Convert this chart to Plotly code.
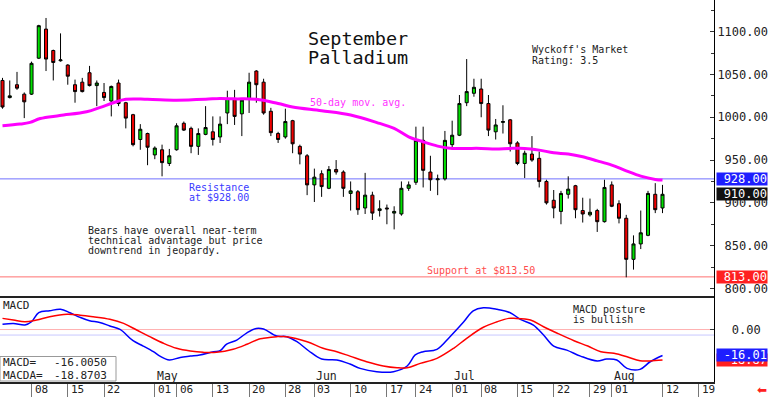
from decimal import Decimal, ROUND_HALF_UP
import pandas as pd
import plotly.graph_objects as go

# ---------------- data ----------------
holidays = ["2024-05-27", "2024-06-19", "2024-07-04"]
first_day, last_day, axis_end_day = "2024-04-02", "2024-08-12", "2024-08-23"

opens = [1043, 1023, 1038, 1027, 1027, 1069, 1103, 1078, 1066, 1061,
         1038, 1041, 1052, 1037, 1029, 1019, 1040, 1017, 1003, 974,
         981, 956, 962, 946, 962, 993, 987, 966, 980, 983,
         977, 1005, 1021, 1004, 1021, 1054, 1041, 1007, 981, 977,
         996, 966, 955, 921, 934, 917, 939, 936, 911, 913,
         894, 909, 891, 894, 888, 887, 917, 924, 973, 936,
         927, 928, 968, 979, 1017, 1028, 1033, 1016, 983, 994,
         997, 970, 946, 957, 952, 925, 903, 890, 910, 920,
         891, 886, 891, 878, 921, 899, 882, 834, 852, 862,
         910, 894]
highs = [1046, 1043, 1053, 1029, 1065, 1108, 1116, 1079, 1098, 1062,
         1044, 1046, 1060, 1043, 1040, 1037, 1044, 1018, 1004, 992,
         982, 966, 968, 963, 993, 995, 989, 987, 1013, 1001,
         1001, 1031, 1032, 1022, 1052, 1055, 1045, 1011, 983, 1010,
         997, 968, 957, 940, 938, 943, 950, 938, 925, 915,
         935, 913, 903, 898, 896, 925, 925, 989, 989, 955,
         933, 984, 996, 1026, 1068, 1045, 1045, 1026, 998, 1014,
         998, 972, 961, 978, 960, 927, 915, 914, 931, 921,
         906, 905, 893, 927, 925, 903, 886, 862, 891, 914,
         923, 921]
lows = [1010, 1022, 1032, 999, 1026, 1068, 1054, 1043, 1065, 1038,
        1017, 1029, 1036, 1013, 1019, 1001, 1013, 987, 966, 962,
        944, 951, 931, 943, 961, 984, 958, 956, 979, 967,
        970, 992, 991, 978, 1005, 1017, 1003, 978, 970, 975,
        958, 945, 909, 901, 907, 916, 933, 907, 891, 886,
        887, 880, 884, 875, 869, 885, 914, 921, 918, 914,
        909, 926, 965, 978, 1013, 1024, 1000, 978, 974, 981,
        960, 944, 929, 948, 918, 898, 882, 875, 905, 882,
        877, 884, 866, 877, 895, 876, 813, 822, 846, 861,
        888, 888]
closes = [1012, 1025, 1034, 1018, 1063, 1107, 1068, 1064, 1067, 1048,
          1030, 1030, 1037, 1040, 1023, 1036, 1016, 999, 968, 986,
          965, 964, 947, 955, 990, 985, 966, 981, 988, 974,
          992, 1022, 1001, 1020, 1041, 1038, 1005, 982, 974, 995,
          969, 957, 921, 930, 919, 939, 936, 917, 914, 892,
          909, 888, 893, 893, 890, 917, 921, 973, 938, 927,
          928, 973, 979, 1016, 1030, 1035, 1016, 985, 991, 995,
          969, 946, 958, 950, 925, 900, 894, 911, 916, 892,
          887, 889, 878, 918, 896, 882, 834, 852, 865, 911,
          892, 910]

# 50-day moving average (position in trading days, value)
ma_pos = [0, 2.4, 3.8, 5.2, 7.9, 11.6, 13.5, 15.3, 17, 20, 24, 28, 30, 32, 35,
          38, 40, 44, 48, 52, 54, 56, 58, 60, 62, 64, 66, 68, 70, 72, 74, 76,
          78, 80, 82, 84, 86, 88, 90, 91]
ma_val = [990, 992, 994, 998.5, 1002, 1006.4, 1011.6, 1017, 1021, 1021, 1020,
          1021, 1022, 1021.5, 1021, 1016, 1012, 1007.6, 1002.6, 992.8, 987,
          977.2, 971.3, 966.3, 963.6, 963.6, 963.6, 962.8, 963.6, 963.6, 961.6,
          958.5, 957, 953.8, 949.1, 944.1, 937.4, 931.2, 927.4, 926.6]

macd_pos = [0, 1.5, 3.1, 4, 5, 6.5, 8, 9.3, 10.7, 12, 13.4, 14.8, 16.2, 18, 19.4,
            20.8, 21.7, 23, 24.5, 25.9, 27.2, 29.1, 30, 30.9, 32.3, 33.7, 35, 36,
            37.8, 39.2, 40.6, 42.2, 44, 46.1, 47.9, 49.3, 51.6, 53.9, 55.8, 56.9,
            58, 59.9, 61.7, 63.6, 64.9, 66.3, 68.2, 70, 71.4, 73.2, 74.6, 76,
            77.8, 79.7, 82, 83.3, 84.7, 86.1, 87.9, 89.3, 91]
macd_val = [3.2, 3.8, 2.8, 4.8, 10.4, 11.6, 12.5, 10.4, 7.5, 5.4, 4.4, 2.2, 0.1,
            -6.9, -10.2, -13.7, -16.4, -18.8, -17.2, -16.4, -15.7, -13.7, -13.1,
            -9, -6.5, -2, 0.7, 0.3, -4, -4.4, -7.5, -13.1, -18.2, -18.8, -21.3,
            -24, -26, -26, -22.5, -15.7, -13.7, -12.2, -4.4, 4.8, 11.6, 13.5,
            12.5, 10.4, 6.3, 2.8, -3.4, -10.2, -12.7, -16.4, -19.4, -18.2, -18.8,
            -24, -24.6, -19.9, -16.005]
macda_pos = [0, 1.5, 3.1, 4.7, 6.5, 8.9, 10.7, 12.5, 14.8, 16.7, 18.5, 20.3, 22.2,
             24, 25.9, 27.7, 29.5, 31.8, 33.7, 35.3, 36, 37.8, 39.2, 42, 44.2,
             46.1, 47.9, 50.2, 52.5, 54.4, 55.8, 57.6, 59.9, 62.2, 64, 66.3, 68.2,
             69.8, 70.5, 72.8, 74.6, 76.5, 78.8, 80.7, 82.5, 84.3, 86.1, 87.9,
             89.3, 91]
macda_val = [6.9, 5.9, 4.8, 5.9, 7.9, 9.4, 8.9, 7.9, 6.3, 3.8, -0.3, -4.4, -8.5,
             -11.6, -13.3, -14.1, -14.1, -12.2, -9.1, -6, -5.4, -4.4, -4.4, -7.5,
             -11.6, -13.7, -16.4, -19.9, -22.5, -23.6, -23.6, -20.9, -17.8, -11.6,
             -5.4, 1.4, 4.8, 6.9, 6.9, 5.9, 1.7, -2.3, -6.9, -10.2, -13.7, -14.7,
             -16.8, -19.3, -19.4, -18.87]

resistance = 928.0
support = 813.5
support_tag = 813.0
last_price = 910.0
macd_last = "-16.0050"
macda_last = "-18.8703"
macd_ref_lines = [0.0, -3.4]

price_ticks = [800, 850, 900, 950, 1000, 1050, 1100]
day_tick_dates = ["2024-04-08", "2024-04-15", "2024-04-22", "2024-05-01", "2024-05-06",
                  "2024-05-13", "2024-05-20", "2024-05-28", "2024-06-03", "2024-06-10",
                  "2024-06-17", "2024-06-24", "2024-07-01", "2024-07-08", "2024-07-15",
                  "2024-07-22", "2024-07-29", "2024-08-01", "2024-08-12", "2024-08-19"]
day_tick_labels = ["08", "15", "22", "01", "06", "13", "20", "28", "03", "10", "17",
                   "24", "01", "08", "15", "22", "29", "01", "12", "19"]
month_dates = ["2024-05-01", "2024-06-03", "2024-07-01", "2024-08-01"]
month_labels = ["May", "Jun", "Jul", "Aug"]

# ---------------- trading-day index ----------------
all_days = [d.strftime("%Y-%m-%d") for d in pd.bdate_range(first_day, axis_end_day)]
trade_days = [d for d in all_days if d not in holidays]
day_idx = {d: i for i, d in enumerate(trade_days)}
n = day_idx[last_day] + 1
xi = list(range(n))

# ---------------- geometry ----------------
W, H = 768, 397
ML, MR, MT, MB = 0, 54, 0, 15
PW, PH = W - ML - MR, H - MT - MB
SPLIT = 297  # px from top where MACD panel starts
split_paper = (PH - SPLIT) / PH
FONT = "DejaVu Sans Mono"


def px(x):
    return x / PW


def py(y):
    return (PH - y) / PH


def r2(s):
    return str(Decimal(s).quantize(Decimal("0.01"), rounding=ROUND_HALF_UP))


fig = go.Figure()

fig.add_trace(go.Candlestick(
    x=xi, open=opens, high=highs, low=lows, close=closes,
    increasing=dict(line=dict(color="black", width=1), fillcolor="#00e000"),
    decreasing=dict(line=dict(color="black", width=1), fillcolor="#f00000"),
    whiskerwidth=0, showlegend=False, hoverinfo="skip", xaxis="x", yaxis="y"))

fig.add_trace(go.Scatter(x=ma_pos, y=ma_val, mode="lines", showlegend=False,
                         line=dict(color="#ff00ff", width=3, shape="spline"),
                         hoverinfo="skip", xaxis="x", yaxis="y"))

fig.add_trace(go.Scatter(x=macd_pos, y=macd_val, mode="lines", showlegend=False,
                         line=dict(color="#0000ff", width=1.5, shape="spline"),
                         hoverinfo="skip", xaxis="x2", yaxis="y2"))
fig.add_trace(go.Scatter(x=macda_pos, y=macda_val, mode="lines", showlegend=False,
                         line=dict(color="#ff0000", width=1.5, shape="spline"),
                         hoverinfo="skip", xaxis="x2", yaxis="y2"))

xr = [-0.345, 98.1]
shapes = [
    dict(type="line", xref="paper", yref="y", x0=0, x1=1, y0=resistance, y1=resistance,
         line=dict(color="#7070ff", width=1), layer="below"),
    dict(type="line", xref="paper", yref="y", x0=0, x1=1, y0=support, y1=support,
         line=dict(color="#ff7070", width=1), layer="below"),
    dict(type="line", xref="paper", yref="y2", x0=0, x1=1, y0=macd_ref_lines[0],
         y1=macd_ref_lines[0], line=dict(color="#ffb0b0", width=1), layer="below"),
    dict(type="line", xref="paper", yref="y2", x0=0, x1=1, y0=macd_ref_lines[1],
         y1=macd_ref_lines[1], line=dict(color="#c8c8ff", width=1), layer="below"),
    dict(type="line", xref="paper", yref="paper", x0=0, x1=1, y0=split_paper,
         y1=split_paper, line=dict(color="#222", width=2)),
    dict(type="rect", xref="paper", yref="paper", x0=px(0), x1=px(116),
         y0=py(381), y1=py(356.5), line=dict(color="#999", width=1),
         fillcolor="white"),
]

ann = []


def text(t, x, y, size=10, color="#222", **kw):
    d = dict(text=t, x=px(x), y=py(y), xref="paper", yref="paper", xanchor="left",
             yanchor="middle", showarrow=False,
             font=dict(family=FONT, size=size, color=color))
    d.update(kw)
    ann.append(d)


text("September", 306, 38.7, size=18.5, color="#111")
text("Palladium", 306, 57, size=18.5, color="#111")
text("50-day mov. avg.", 308, 102.5, color="#ff33ff")
text("Wyckoff's Market", 530, 49)
text("Rating: 3.5", 530, 60)
text("Resistance", 187, 187.5, color="#3a3aff")
text(f"at ${resistance:.2f}", 187, 198, color="#3a3aff")
text("Bears have overall near-term", 86, 230)
text("technical advantage but price", 86, 240.7)
text("downtrend in jeopardy.", 86, 250.7)
text(f"Support at ${support:.2f}", 425, 270, color="#ff4d4d")
text("MACD posture", 571, 309)
text("is bullish", 571, 319)
text("MACD", 1, 305, size=11)
text("MACD=", 1, 362.7, size=11)
text(macd_last, 52, 362.7, size=11)
text("MACDA=", 1, 375, size=11)
text(macda_last, 52, 375, size=11)

# date tick labels and month labels
for d, lab in zip(day_tick_dates, day_tick_labels):
    ann.append(dict(text=lab, x=day_idx[d], y=py(389), xref="x2", yref="paper",
                    xanchor="left", yanchor="middle", xshift=1, showarrow=False,
                    font=dict(family=FONT, size=11, color="#222")))
for d, lab in zip(month_dates, month_labels):
    ann.append(dict(text=lab, x=day_idx[d], y=py(376), xref="x2", yref="paper",
                    xanchor="left", yanchor="middle", showarrow=False,
                    font=dict(family=FONT, size=11.5, color="#222")))


def tag(t, yval, yref, bg):
    ann.append(dict(text=t, x=px(716), y=yval, xref="paper", yref=yref,
                    xanchor="left", yanchor="middle", showarrow=False, width=50,
                    height=12, align="right", bgcolor=bg, borderpad=0,
                    font=dict(family=FONT, size=12, color="white")))


tag(f"{resistance:.2f}", resistance, "y", "#1e1eff")
tag(f"{last_price:.2f}", last_price, "y", "#111111")
tag(f"{support_tag:.2f}", support, "y", "#ff2020")
tag(r2(macda_last), float(macda_last), "y2", "#ff2020")
tag(r2(macd_last), float(macd_last), "y2", "#1e1eff")
ann.append(dict(text="⬅", x=px(762), y=py(390), xref="paper", yref="paper",
                xanchor="center", yanchor="middle", showarrow=False,
                font=dict(family="DejaVu Sans", size=12, color="#ff2020")))

price_text = [f"{v:.2f}".rjust(7, "\u00a0") for v in price_ticks]

fig.update_layout(
    width=W, height=H, margin=dict(l=ML, r=MR, t=MT, b=MB, pad=0),
    paper_bgcolor="white", plot_bgcolor="white", showlegend=False,
    boxgap=0.4,
    font=dict(family=FONT, color="#222"),
    xaxis=dict(domain=[0, 1], range=xr, anchor="y", showticklabels=False,
               showgrid=False, zeroline=False, rangeslider=dict(visible=False),
               showline=False, ticks=""),
    yaxis=dict(domain=[split_paper, 1], range=[790, 1137], side="right",
               anchor="x", tickvals=price_ticks, ticktext=price_text,
               ticks="inside", ticklen=4, tickcolor="#333", showline=True,
               linecolor="black", linewidth=1, showgrid=False, zeroline=False,
               tickfont=dict(family=FONT, size=12, color="#222"),
               minor=dict(ticks="inside", ticklen=3, tick0=800, dtick=25,
                          tickcolor="#333")),
    yaxis3=dict(overlaying="y", side="left", anchor="x", range=[790, 1137],
                ticks="inside", ticklen=3, tick0=800, dtick=25, tickcolor="#555",
                showticklabels=False, showline=False, showgrid=False,
                zeroline=False),
    xaxis2=dict(domain=[0, 1], range=xr, anchor="y2",
                tickvals=[day_idx[d] for d in day_tick_dates],
                ticktext=["" for _ in day_tick_dates],
                ticks="outside", ticklen=16, tickcolor="#777", tickwidth=1,
                showline=True, linecolor="#222", linewidth=2, showgrid=False,
                zeroline=False),
    yaxis2=dict(domain=[0, split_paper], range=[-32.4, 20.1], side="right",
                anchor="x2", tickvals=[0], ticktext=["\u00a0\u00a00.00"],
                ticks="inside", ticklen=4, tickcolor="#333", showline=True,
                linecolor="black", linewidth=1, showgrid=False, zeroline=False,
                tickfont=dict(family=FONT, size=12, color="#222")),
    shapes=shapes, annotations=ann,
)

fig.write_html("out.html", include_plotlyjs=True, config={"displayModeBar": False},
               post_script="document.body.style.margin='0';document.body.style.overflow='hidden';")
